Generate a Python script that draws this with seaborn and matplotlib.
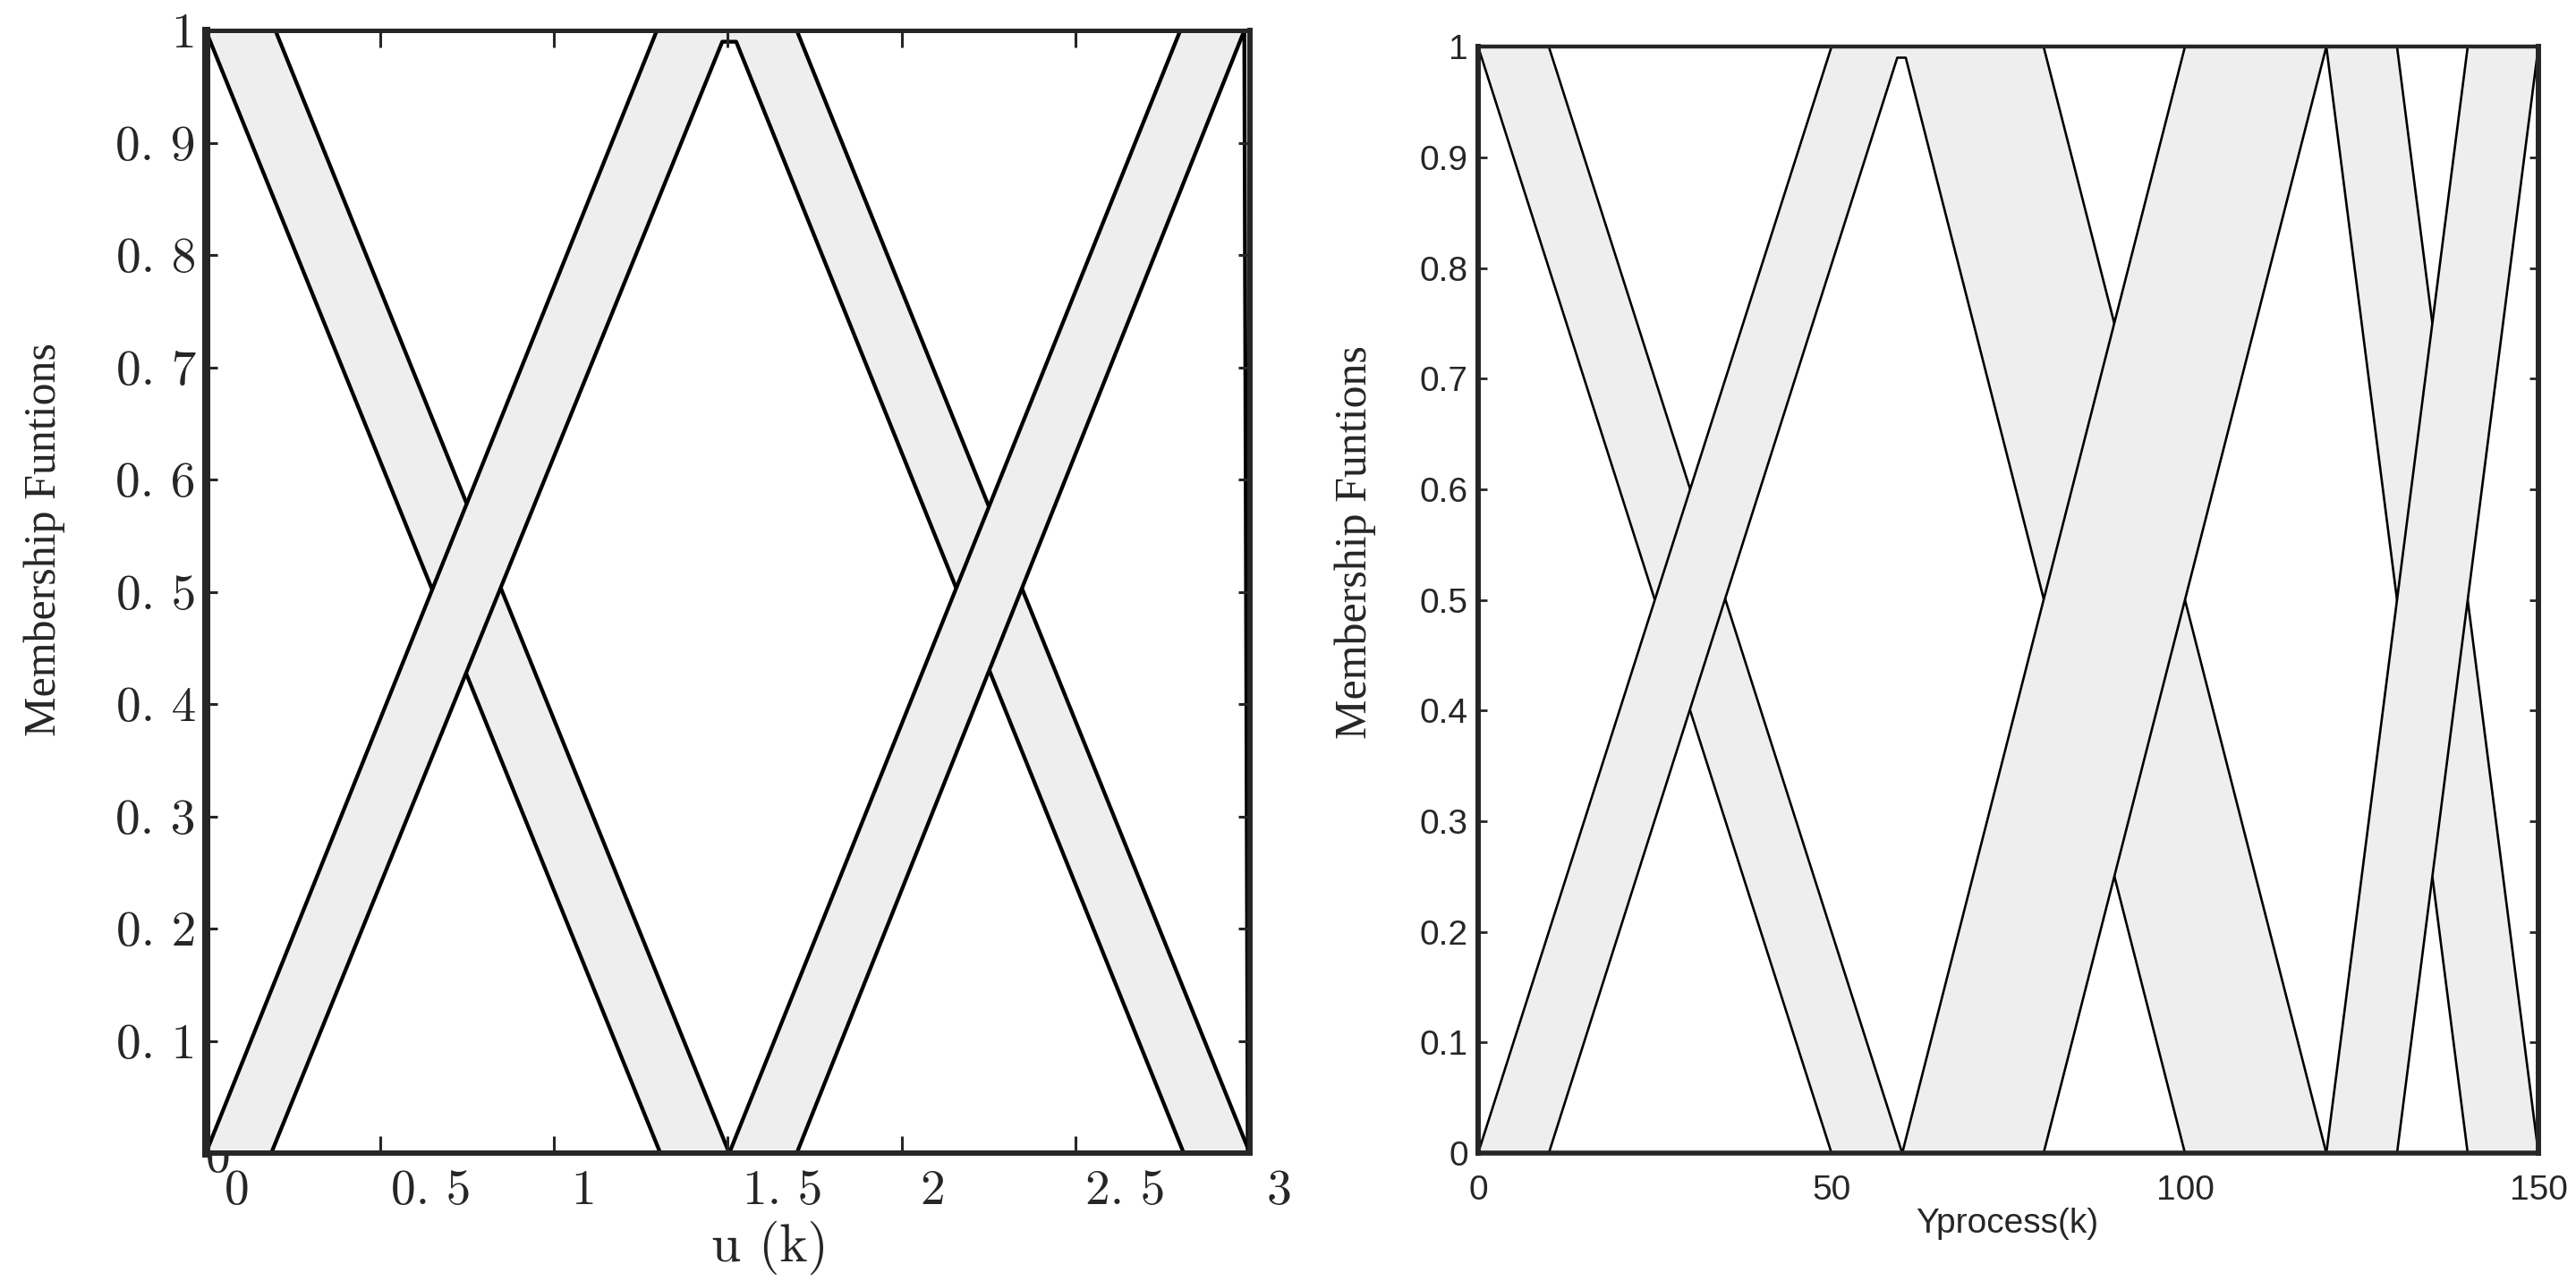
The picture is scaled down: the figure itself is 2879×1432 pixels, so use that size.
import matplotlib
matplotlib.use("Agg")
import matplotlib.pyplot as plt
import matplotlib.transforms as mtransforms
from matplotlib import font_manager
import seaborn as sns

# ---------------------------------
# Funciones de pertenencia tipo-2: FP superior (up) e inferior (lo)
# ---------------------------------

# u(k)
u1_up_x = [0, 0.2, 1.504]
u1_up_y = [1, 1, 0]
u1_lo_x = [0, 1.306]
u1_lo_y = [1, 0]
u2_up_x = [0, 1.296, 1.698, 3.0]
u2_up_y = [0, 1, 1, 0]
u2_lo_x = [0.188, 1.484, 1.524, 2.81]
u2_lo_y = [0, 0.99, 0.99, 0]
u3_up_x = [1.504, 2.80, 3.0]
u3_up_y = [0, 1, 1]
u3_lo_x = [1.698, 2.984, 2.994]
u3_lo_y = [0, 1, 0]

# Yprocess(k)
y1_up_x = [0, 10, 60]
y1_up_y = [1, 1, 0]
y1_lo_x = [0, 50]
y1_lo_y = [1, 0]
y2_up_x = [0, 50, 80, 120]
y2_up_y = [0, 1, 1, 0]
y2_lo_x = [10, 59.3, 60.5, 100]
y2_lo_y = [0, 0.99, 0.99, 0]
y3_up_x = [60, 100, 130, 150]
y3_up_y = [0, 1, 1, 0]
y3_lo_x = [80, 120, 140]
y3_lo_y = [0, 1, 0]
y4_up_x = [120, 140, 150]
y4_up_y = [0, 1, 1]
y4_lo_x = [130, 150]
y4_lo_y = [0, 1]

# ejes y etiquetas
u_ticks = [0, 0.5, 1, 1.5, 2, 2.5, 3]
u_tick_text = ["0", "0. 5", "1", "1. 5", "2", "2. 5", "3"]
u_tick_pos = [0.09, 0.648, 1.086, 1.657, 2.088, 2.641, 3.085]  # las etiquetas estan corridas en la figura original
mf_ticks = [0.1, 0.2, 0.3, 0.4, 0.5, 0.6, 0.7, 0.8, 0.9, 1.0]
u_mf_text = ["0. 1", "0. 2", "0. 3", "0. 4", "0. 5", "0. 6", "0. 7", "0. 8", "0. 9", "1"]
y_ticks = [0, 50, 100, 150]
y_mf_ticks = [0, 0.1, 0.2, 0.3, 0.4, 0.5, 0.6, 0.7, 0.8, 0.9, 1.0]
y_mf_text = ["0", "0.1", "0.2", "0.3", "0.4", "0.5", "0.6", "0.7", "0.8", "0.9", "1"]

GRIS = "#eeeeee"

sns.set_style("ticks")
plt.rcParams["font.family"] = ["Liberation Serif", "DejaVu Serif"]

fuentes = {f.name for f in font_manager.fontManager.ttflist}
if "Liberation Sans Narrow" in fuentes:
    sans, t_size, l_size = "Liberation Sans Narrow", 29, 32
else:
    sans, t_size, l_size = "Liberation Sans", 28, 28


def conjunto(ax, up_x, up_y, lo_x, lo_y, z, lw):
    # FOU gris entre la FP superior y la inferior, tapa las lineas anteriores
    ax.fill(up_x + lo_x[::-1], up_y + lo_y[::-1], color=GRIS, linewidth=0, zorder=z)
    sns.lineplot(x=up_x, y=up_y, sort=False, estimator=None, color="black",
                 linewidth=lw, zorder=z + 0.05, ax=ax)
    sns.lineplot(x=lo_x, y=lo_y, sort=False, estimator=None, color="black",
                 linewidth=lw, zorder=z + 0.05, ax=ax)


def bordes(ax, anchos):
    for lado, w in anchos.items():
        ax.spines[lado].set_linewidth(w)
        ax.spines[lado].set_visible(True)
        ax.spines[lado].set_zorder(10)
    ax.set_axisbelow(False)


fig = plt.figure(figsize=(28.79, 14.32), dpi=100)

# ---- u(k) ----
ax1 = fig.add_axes([0.0799, 0.0998, 0.4053, 0.8764])
conjunto(ax1, u1_up_x, u1_up_y, u1_lo_x, u1_lo_y, 1.0, 3.1)
conjunto(ax1, u2_up_x, u2_up_y, u2_lo_x, u2_lo_y, 1.2, 3.1)
conjunto(ax1, u3_up_x, u3_up_y, u3_lo_x, u3_lo_y, 1.4, 3.1)
ax1.set_xlim(0, 3)
ax1.set_ylim(0, 1)
ax1.set_xticks(u_ticks, labels=[""] * len(u_ticks))
ax1.set_yticks(mf_ticks, labels=u_mf_text, fontfamily="cmr10", fontsize=40)
ax1.tick_params(axis="x", direction="in", top=True, length=14, width=2.2)
ax1.tick_params(axis="y", direction="in", right=True, length=9.5, width=2.2, pad=8)
bordes(ax1, {"left": 6.5, "bottom": 4.3, "top": 3.6, "right": 4.3})
trans = mtransforms.blended_transform_factory(ax1.transData, ax1.transAxes)
for pos, txt in zip(u_tick_pos, u_tick_text):
    ax1.text(pos, -0.034, txt, transform=trans, ha="center", va="center",
             fontfamily="cmr10", fontsize=40, clip_on=False)
ax1.text(0.034, -0.006, "0", transform=trans, ha="center", va="center",
         fontfamily="cmr10", fontsize=40, clip_on=False, zorder=0.5)
ax1.set_xlabel("")
ax1.set_ylabel("")
fig.text(860 / 2879, 1 - 1395 / 1432, "u (k)", ha="center", va="center",
         fontfamily="cmr10", fontsize=43)
fig.text(50 / 2879, 1 - 603 / 1432, "Membership Funtions", rotation=90,
         ha="center", va="center", fontsize=36)

# ---- Yprocess(k) ----
ax2 = fig.add_axes([0.5738, 0.0998, 0.4116, 0.8638])
conjunto(ax2, y1_up_x, y1_up_y, y1_lo_x, y1_lo_y, 1.0, 1.9)
conjunto(ax2, y2_up_x, y2_up_y, y2_lo_x, y2_lo_y, 1.2, 1.9)
conjunto(ax2, y3_up_x, y3_up_y, y3_lo_x, y3_lo_y, 1.4, 1.9)
conjunto(ax2, y4_up_x, y4_up_y, y4_lo_x, y4_lo_y, 1.6, 1.9)
ax2.set_xlim(0, 150)
ax2.set_ylim(0, 1)
ax2.set_xticks(y_ticks, labels=[str(t) for t in y_ticks], fontfamily=sans, fontsize=t_size)
ax2.set_yticks(y_mf_ticks, labels=y_mf_text, fontfamily=sans, fontsize=t_size)
ax2.tick_params(axis="x", length=0, pad=17)
ax2.tick_params(axis="y", direction="in", right=True, length=7, width=2, pad=8)
bordes(ax2, {"left": 4.3, "bottom": 4.0, "top": 3.2, "right": 4.3})
ax2.set_xlabel("")
ax2.set_ylabel("")
fig.text(2243 / 2879, 1 - 1368 / 1432, "Yprocess(k)", ha="center", va="center",
         fontfamily=sans, fontsize=l_size)
fig.text(1515 / 2879, 1 - 606 / 1432, "Membership Funtions", rotation=90,
         ha="center", va="center", fontsize=36)

plt.savefig("out.png", dpi=100)
